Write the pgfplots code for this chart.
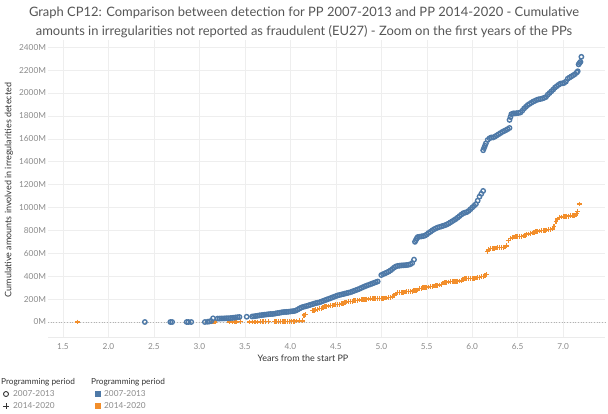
\documentclass[border=0pt]{standalone}
\usepackage{pgfplots}
\pgfplotsset{compat=1.18}
\usepackage{pgfplotstable}
\usepackage{fontspec}
\setmainfont{Lato}
\definecolor{tblue}{HTML}{4E79A7}
\definecolor{torange}{HTML}{F28E2B}
\definecolor{ticktxt}{HTML}{8A8A8A}
\definecolor{titletxt}{HTML}{555555}
\definecolor{gridc}{HTML}{EEEEEE}

\pgfplotstableread{
x y
2.40 0
2.68 0
2.70 0
2.86 0
2.88 0
2.91 0
3.06 0
3.09 2
3.11 5
3.13 8
3.15 32
3.20 30
3.22 30
3.24 31
3.26 31
3.28 32
3.30 33
3.32 33
3.34 34
3.36 36
3.38 38
3.40 40
3.42 42
3.44 44
3.52 46
3.58 48
3.60 50
3.62 52
3.64 55
3.66 58
3.68 60
3.70 62
3.72 64
3.74 66
3.76 68
3.78 70
3.80 70
3.82 72
3.84 75
3.86 78
3.88 80
3.90 84
3.92 86
3.94 88
3.96 88
3.98 90
4.00 92
4.02 94
4.04 96
4.06 100
4.08 108
4.10 118
4.12 126
4.14 132
4.16 136
4.18 140
4.20 145
4.22 150
4.24 155
4.26 160
4.28 165
4.30 168
4.32 172
4.34 178
4.36 184
4.38 190
4.40 196
4.42 202
4.44 208
4.46 214
4.48 220
4.50 226
4.52 232
4.54 236
4.56 240
4.58 244
4.60 248
4.62 252
4.64 256
4.66 260
4.68 266
4.70 272
4.72 278
4.74 284
4.76 290
4.78 298
4.80 305
4.82 312
4.84 318
4.86 324
4.88 330
4.90 336
4.92 342
4.94 348
4.96 354
5.00 410
5.02 418
5.04 425
5.06 432
5.08 440
5.10 450
5.12 462
5.14 475
5.16 485
5.18 490
5.20 492
5.22 494
5.24 495
5.26 496
5.28 498
5.30 500
5.32 505
5.34 515
5.36 545
5.37 700
5.38 715
5.39 730
5.40 742
5.42 745
5.44 748
5.46 750
5.48 755
5.50 765
5.52 778
5.54 788
5.56 800
5.58 810
5.60 818
5.62 825
5.64 830
5.66 835
5.68 840
5.70 845
5.72 852
5.74 860
5.76 870
5.78 880
5.80 890
5.82 900
5.84 912
5.86 925
5.88 938
5.90 950
5.92 955
5.94 960
5.96 970
5.98 985
6.00 1000
6.02 1015
6.04 1030
6.06 1060
6.08 1095
6.10 1120
6.12 1145
6.12 1500
6.13 1520
6.14 1540
6.15 1560
6.17 1590
6.19 1605
6.21 1612
6.23 1612
6.25 1620
6.27 1630
6.29 1640
6.31 1650
6.33 1660
6.35 1668
6.37 1676
6.39 1685
6.41 1695
6.41 1765
6.42 1790
6.43 1815
6.45 1822
6.47 1822
6.49 1824
6.51 1826
6.53 1830
6.55 1845
6.57 1865
6.59 1880
6.61 1895
6.63 1905
6.65 1915
6.67 1925
6.69 1932
6.71 1940
6.73 1945
6.75 1948
6.77 1952
6.79 1958
6.81 1965
6.83 1985
6.85 2000
6.87 2015
6.89 2030
6.91 2048
6.93 2060
6.95 2072
6.97 2082
6.99 2085
7.01 2088
7.03 2100
7.05 2125
7.07 2135
7.09 2145
7.11 2155
7.13 2165
7.15 2180
7.16 2190
7.17 2250
7.18 2262
7.19 2272
7.20 2316
}\blueA

\pgfplotstableread{
x y
1.66 0
3.14 0
3.16 0
3.17 0
3.33 0
3.36 0
3.39 0
3.41 0
3.45 2
3.55 0
3.58 0
3.61 0
3.64 0
3.67 2
3.70 2
3.73 3
3.76 3
3.83 5
3.85 5
3.87 5
3.89 6
3.91 6
3.93 6
3.95 7
3.97 7
3.99 7
4.01 8
4.04 8
4.07 9
4.10 10
4.13 10
4.15 60
4.17 65
4.24 100
4.26 104
4.28 106
4.30 110
4.32 115
4.34 120
4.36 130
4.38 134
4.40 138
4.42 140
4.44 142
4.46 145
4.48 148
4.50 150
4.52 152
4.54 155
4.56 160
4.58 165
4.60 170
4.62 175
4.64 178
4.66 180
4.68 182
4.70 185
4.72 188
4.74 190
4.76 192
4.78 195
4.80 197
4.82 199
4.84 200
4.86 201
4.88 202
4.90 203
4.92 204
4.94 205
4.96 206
4.98 207
5.00 208
5.02 208
5.04 209
5.06 210
5.08 212
5.10 215
5.12 220
5.14 230
5.16 245
5.18 255
5.20 258
5.22 259
5.24 260
5.26 262
5.28 264
5.30 266
5.32 268
5.34 270
5.36 272
5.38 275
5.40 280
5.42 290
5.44 295
5.46 298
5.48 300
5.50 302
5.52 305
5.54 308
5.56 312
5.58 315
5.60 318
5.62 320
5.64 323
5.66 330
5.68 340
5.70 345
5.72 348
5.74 350
5.76 352
5.78 354
5.80 355
5.82 356
5.84 357
5.86 358
5.88 360
5.90 370
5.92 380
5.94 381
5.96 381
5.98 382
6.00 383
6.02 383
6.04 384
6.06 386
6.08 390
6.10 395
6.12 400
6.14 405
6.16 412
6.17 615
6.18 630
6.20 640
6.22 643
6.24 645
6.26 647
6.28 648
6.30 650
6.32 651
6.34 652
6.36 655
6.38 665
6.40 710
6.42 730
6.44 740
6.46 742
6.48 744
6.50 745
6.52 747
6.54 749
6.56 752
6.58 758
6.60 763
6.62 768
6.64 772
6.66 778
6.68 785
6.70 790
6.72 792
6.74 795
6.76 797
6.78 799
6.80 801
6.82 803
6.84 805
6.86 808
6.88 812
6.90 835
6.92 880
6.94 900
6.96 915
6.98 918
7.00 920
7.02 922
7.04 923
7.06 925
7.08 927
7.10 929
7.12 932
7.14 935
7.15 950
7.16 965
7.18 1030
}\orangeB

\begin{document}
\begin{tikzpicture}[x=1bp,y=-1bp]
\path[use as bounding box] (0,0) rectangle (608,413);
\begin{axis}[
  at={(48bp,-337bp)}, anchor=south west,
  scale only axis, width=557bp, height=297bp,
  xmin=1.335, xmax=7.46, ymin=-131, ymax=2463,
  xtick={1.5,2,...,7}, xticklabels={1.5,2.0,2.5,3.0,3.5,4.0,4.5,5.0,5.5,6.0,6.5,7.0},
  ytick={0,200,...,2400},
  yticklabels={0M,200M,400M,600M,800M,1000M,1200M,1400M,1600M,1800M,2000M,2200M,2400M},
  tick label style={font=\fontsize{8.3}{10}\selectfont, text=ticktxt},
  /pgf/number format/assume math mode=true,
  grid=major, grid style={gridc, line width=0.5pt},
  axis line style={draw=none}, 
  axis x line*=bottom, axis y line*=left,
  x axis line style={draw=gridc!70!gray!40, line width=0.6pt},
  y axis line style={draw=none},
  tick style={draw=none},
  xticklabel style={yshift=-3bp},
  yticklabel style={xshift=1.5bp},
  clip=false,
]
\draw[gray!60, dotted, line width=0.7pt] (axis cs:1.335,0) -- (axis cs:7.46,0);
\addplot[only marks, mark=+, mark size=2.4bp, mark options={draw=torange, line width=1.3bp}] table {\orangeB};
\addplot[only marks, mark=o, mark size=2.2bp, mark options={draw=tblue, line width=1.4bp}] table {\blueA};
\end{axis}
\node[text=titletxt, font=\fontsize{13}{20}\selectfont, align=center, anchor=north] at (304,3) {Graph CP12: Comparison between detection for PP 2007-2013 and PP 2014-2020 - Cumulative\\amounts in irregularities not reported as fraudulent (EU27) - Zoom on the first years of the PPs};
\node[rotate=90, font=\fontsize{9}{11}\selectfont, text=black!80] at (9,190) {Cumulative amounts involved in irregularities detected};
\node[font=\fontsize{9}{11}\selectfont, text=black!80] at (303,358) {Years from the start PP};
\begin{scope}[font=\fontsize{8.3}{10}\selectfont]
\node[anchor=west, text=black!80, inner sep=0] at (1,382) {Programming period};
\node[anchor=west, text=black!80, inner sep=0] at (91,382) {Programming period};
\node[anchor=west, text=ticktxt, inner sep=0] at (13,394) {2007-2013};
\node[anchor=west, text=ticktxt, inner sep=0] at (13,406) {2014-2020};
\node[anchor=west, text=ticktxt, inner sep=0] at (104,394) {2007-2013};
\node[anchor=west, text=ticktxt, inner sep=0] at (104,406) {2014-2020};
\draw[black!80, line width=0.9pt] (6,394) circle (2.5);
\draw[black!80, line width=0.9pt] (3,406) -- (9,406) (6,403) -- (6,409);
\fill[tblue] (95,391) rectangle (101,397);
\fill[torange] (95,403) rectangle (101,409);
\end{scope}
\end{tikzpicture}
\end{document}
